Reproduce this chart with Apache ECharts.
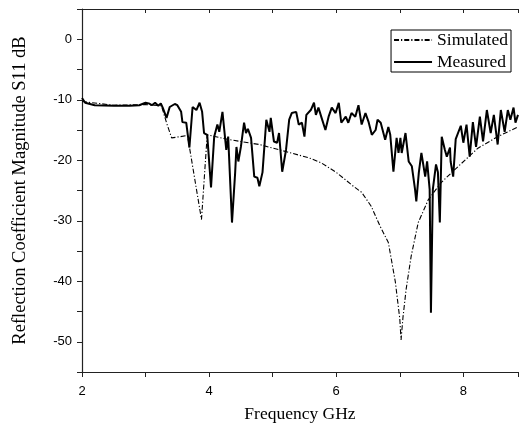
<!DOCTYPE html>
<html>
<head>
<meta charset="utf-8">
<script src="https://cdn.jsdelivr.net/npm/echarts@6/dist/echarts.min.js"></script>
<style>html,body{margin:0;padding:0;background:#fff}#c{width:521px;height:428px}</style>
</head>
<body>
<div id="c"></div>
<script>
const simFreq = [2.0, 2.5, 3.0, 3.25, 3.33, 3.41, 3.55, 3.66, 3.88, 3.97, 4.0, 4.32, 4.79, 5.22, 5.57, 5.76, 6.0, 6.27, 6.4, 6.55, 6.69, 6.82, 6.93, 7.0, 7.02, 7.05, 7.1, 7.18, 7.29, 7.45, 7.65, 7.87, 8.23, 8.54, 8.86];
const simS11 = [-10.3, -10.9, -10.8, -11.0, -13.8, -16.3, -16.1, -15.9, -29.8, -15.8, -15.8, -16.6, -17.4, -18.6, -19.6, -20.4, -22.0, -24.3, -25.3, -27.6, -30.9, -33.6, -40.1, -46.2, -49.7, -46.0, -41.3, -35.8, -30.3, -26.5, -23.7, -21.5, -18.0, -16.1, -14.5];

const measFreq = [2.00, 2.05, 2.2, 2.5, 2.75, 2.9, 3.0, 3.05, 3.1, 3.15, 3.2, 3.24, 3.27, 3.33, 3.38, 3.46, 3.5, 3.56, 3.58, 3.64, 3.69, 3.74, 3.77, 3.8, 3.85, 3.89, 3.92, 3.97, 4.03, 4.08, 4.13, 4.16, 4.21, 4.27, 4.30, 4.36, 4.41, 4.43, 4.46, 4.50, 4.55, 4.58, 4.61, 4.66, 4.71, 4.76, 4.79, 4.84, 4.90, 4.92, 4.95, 4.97, 5.02, 5.07, 5.10, 5.15, 5.21, 5.26, 5.30, 5.37, 5.41, 5.46, 5.50, 5.53, 5.60, 5.65, 5.68, 5.72, 5.77, 5.83, 5.88, 5.93, 5.99, 6.04, 6.08, 6.15, 6.19, 6.24, 6.30, 6.35, 6.40, 6.46, 6.51, 6.56, 6.62, 6.65, 6.70, 6.73, 6.77, 6.82, 6.85, 6.90, 6.95, 6.98, 7.01, 7.03, 7.09, 7.14, 7.19, 7.24, 7.26, 7.30, 7.34, 7.40, 7.43, 7.47, 7.49, 7.52, 7.57, 7.60, 7.63, 7.66, 7.71, 7.74, 7.79, 7.80, 7.84, 7.88, 7.96, 8.00, 8.05, 8.10, 8.15, 8.20, 8.26, 8.31, 8.37, 8.43, 8.48, 8.54, 8.59, 8.65, 8.70, 8.74, 8.79, 8.82, 8.86];
const measS11 = [-9.7, -10.5, -10.9, -11.0, -11.0, -10.9, -10.5, -10.6, -10.9, -10.5, -11.0, -10.6, -11.3, -13.0, -11.2, -10.7, -10.9, -12.0, -13.7, -13.8, -17.9, -11.2, -10.9, -11.7, -10.5, -12.0, -15.5, -15.8, -24.5, -16.1, -14.1, -15.3, -12.0, -18.3, -16.1, -30.3, -22.0, -17.8, -20.2, -17.8, -13.8, -15.5, -14.8, -16.3, -22.7, -22.9, -24.3, -22.0, -13.3, -13.0, -15.3, -13.0, -16.9, -17.1, -15.5, -21.9, -18.3, -13.3, -12.2, -12.0, -14.1, -13.8, -16.1, -12.5, -11.7, -10.5, -12.5, -11.3, -13.0, -15.0, -12.8, -11.3, -12.2, -10.5, -13.8, -12.8, -13.8, -12.2, -12.8, -10.9, -14.1, -12.2, -13.7, -15.8, -15.0, -13.3, -13.8, -13.7, -16.6, -14.5, -15.8, -21.9, -16.3, -18.8, -16.3, -18.8, -15.5, -20.2, -21.0, -24.8, -26.8, -22.0, -18.8, -22.7, -20.2, -24.8, -45.2, -24.8, -20.7, -22.0, -30.3, -16.1, -18.3, -19.4, -17.9, -20.2, -22.7, -16.5, -14.3, -17.1, -14.1, -19.4, -13.7, -17.8, -12.8, -16.9, -11.7, -15.5, -12.5, -17.4, -11.7, -15.3, -11.7, -13.3, -11.3, -13.8, -12.5];

const xMin = 2, xMax = 8.86, yMin = -55, yMax = 5;

const pair = (xs, ys) => xs.map((x, i) => [x, ys[i]]);
const chart = echarts.init(document.getElementById('c'), null, {renderer: 'canvas'});
const axisCol = '#222';
const sans = 'Liberation Sans';
const serif = 'Liberation Serif';
chart.setOption({
  animation: false,
  backgroundColor: '#fff',
  grid: {left: 82, right: 0, top: 9, bottom: 55, containLabel: false},
  legend: {
    right: 10, top: 30, orient: 'vertical',
    borderColor: '#000', borderWidth: 1, padding: [1, 3, 1, 2],
    itemWidth: 38, itemHeight: 12, itemGap: 4,
    itemStyle: {opacity: 0},
    textStyle: {fontFamily: serif, fontSize: 17.5, color: '#000'},
    data: ['Simulated', 'Measured']
  },
  xAxis: [{
    type: 'value', min: xMin, max: xMax, interval: 1,
    name: 'Frequency GHz', nameLocation: 'middle', nameGap: 33,
    nameTextStyle: {fontFamily: serif, fontSize: 17.5, color: '#000'},
    axisLine: {show: true, onZero: false, lineStyle: {color: axisCol, width: 1.2}},
    axisTick: {show: true, inside: false, length: 5, lineStyle: {color: axisCol}},
    axisLabel: {margin: 13, fontFamily: sans, fontSize: 13, color: '#000',
      formatter: v => (Math.abs(v - Math.round(v)) < 1e-6 && Math.round(v) % 2 === 0) ? String(Math.round(v)) : ''},
    splitLine: {show: false}
  }, {
    type: 'value', position: 'top', min: xMin, max: xMax, interval: 1,
    axisLine: {show: true, onZero: false, lineStyle: {color: axisCol, width: 1.2}},
    axisTick: {show: true, inside: true, length: 4, lineStyle: {color: axisCol}},
    axisLabel: {show: false}, splitLine: {show: false}
  }],
  yAxis: {
    type: 'value', min: yMin, max: yMax, interval: 5,
    name: 'Reflection Coefficient Magnitude S11 dB', nameLocation: 'middle', nameGap: 52,
    nameTextStyle: {fontFamily: serif, fontSize: 18.5, color: '#000'},
    axisLine: {show: true, onZero: false, lineStyle: {color: axisCol, width: 1.2}},
    axisTick: {show: true, inside: false, length: 5, lineStyle: {color: axisCol}},
    axisLabel: {margin: 10, fontFamily: sans, fontSize: 13, color: '#000',
      formatter: v => (Math.round(v) % 10 === 0) ? String(Math.round(v)) : ''},
    splitLine: {show: false}
  },
  series: [{
    name: 'Simulated', type: 'line', data: pair(simFreq, simS11),
    showSymbol: false, symbol: 'none', z: 2,
    lineStyle: {color: '#000', width: 1.1, type: [5, 2, 1.2, 2]},
    itemStyle: {color: '#000'}
  }, {
    name: 'Measured', type: 'line', data: pair(measFreq, measS11),
    showSymbol: false, symbol: 'none', z: 3,
    lineStyle: {color: '#000', width: 2},
    itemStyle: {color: '#000'}
  }]
});
</script>
</body>
</html>
